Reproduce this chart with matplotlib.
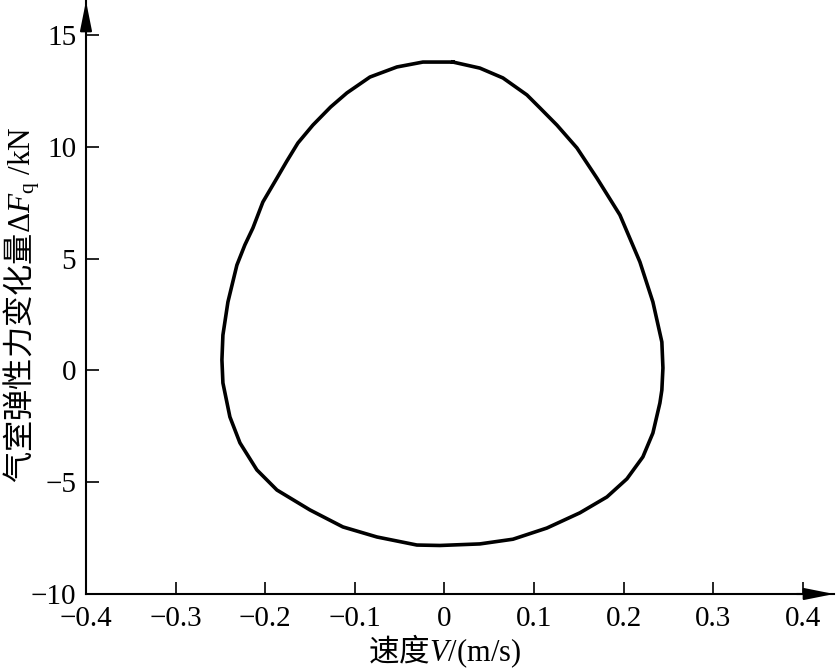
import matplotlib
matplotlib.use("Agg")
import matplotlib.pyplot as plt

plt.rcParams['font.family'] = ['Liberation Serif', 'Noto Sans CJK SC']
plt.rcParams['mathtext.fontset'] = 'custom'
plt.rcParams['mathtext.rm'] = 'Noto Sans CJK SC'
plt.rcParams['mathtext.it'] = 'Liberation Serif:italic'
plt.rcParams['mathtext.bf'] = 'Liberation Serif'
plt.rcParams['axes.unicode_minus'] = True

# Loop data (velocity m/s, force change kN), traced clockwise from the top
velocity = [0.0095, 0.0396, 0.0653, 0.0921, 0.1066, 0.1256, 0.1479, 0.1702,
            0.1959, 0.2182, 0.2327, 0.2427, 0.2439, 0.2427, 0.2405, 0.2327,
            0.2215, 0.2037, 0.1814, 0.1512, 0.1144, 0.0765, 0.0396, -0.0050,
            -0.0307, -0.0753, -0.1133, -0.1501, -0.1869, -0.2093, -0.2282,
            -0.2394, -0.2472, -0.2483, -0.2472, -0.2416, -0.2316, -0.2227,
            -0.2137, -0.2026, -0.1869, -0.1760, -0.1635, -0.1468, -0.1270,
            -0.1088, -0.0831, -0.0530, -0.0240, 0.0095]
force = [13.79, 13.52, 13.08, 12.32, 11.74, 10.97, 9.95, 8.60,
         6.95, 4.85, 3.06, 1.27, 0.11, -0.88, -1.46, -2.80,
         -3.87, -4.85, -5.66, -6.37, -7.05, -7.55, -7.76, -7.83,
         -7.81, -7.45, -7.00, -6.24, -5.35, -4.45, -3.24,
         -2.08, -0.56, 0.47, 1.58, 3.06, 4.71, 5.61,
         6.37, 7.53, 8.60, 9.35, 10.17, 10.97, 11.78,
         12.41, 13.12, 13.57, 13.79, 13.79]

x_ticks = [-0.4, -0.3, -0.2, -0.1, 0.0, 0.1, 0.2, 0.3, 0.4]
x_tick_labels = ["\u22120.4", "\u22120.3", "\u22120.2", "\u22120.1", "0", "0.1", "0.2", "0.3", "0.4"]
y_ticks = [-10, -5, 0, 5, 10, 15]
y_tick_labels = ["\u221210", "\u22125", "0", "5", "10", "15"]

x_label = r"$\mathrm{速度}\mathit{V}\mathbf{/(m/s)}$"
y_label = r"$\mathrm{气室弹性力变化量}\mathbf{\Delta}\mathit{F}_{\mathbf{q}}\mathbf{\ /kN}$"

W, H = 837, 672
fig = plt.figure(figsize=(W / 100, H / 100), dpi=100)
ax = fig.add_axes([86 / W, 78 / H, 748 / W, 593 / H])

ax.plot(velocity, force, color='black', linewidth=2.6, solid_joinstyle='round')

ax.set_xlim(-0.4, -0.4 + 748 / 896)
ax.set_ylim(-10, -10 + 593 / 22.36)

for s in ['top', 'right']:
    ax.spines[s].set_visible(False)
for s in ['left', 'bottom']:
    ax.spines[s].set_linewidth(1.5)

ax.set_xticks(x_ticks)
ax.set_xticklabels(x_tick_labels)
ax.set_yticks(y_ticks)
ax.set_yticklabels(y_tick_labels)
ax.tick_params(axis='both', direction='in', length=9, width=1.2, labelsize=21)
ax.tick_params(axis='x', pad=9)
ax.tick_params(axis='y', pad=7)

arrow = dict(arrowstyle='-|>,head_length=0.9,head_width=0.18', color='black',
             lw=1.5, mutation_scale=20, shrinkA=0, shrinkB=0)
ax.annotate('', xy=(1.0, 0), xytext=(0.95, 0), xycoords='axes fraction',
            textcoords='axes fraction', arrowprops=arrow, annotation_clip=False)
ax.annotate('', xy=(0, 1.0), xytext=(0, 0.95), xycoords='axes fraction',
            textcoords='axes fraction', arrowprops=arrow, annotation_clip=False)

fig.text(445 / W, 1 - 651 / H, x_label, ha='center', va='center', fontsize=22)
fig.text(22 / W, 1 - 305 / H, y_label, ha='center', va='center', fontsize=22.5,
         rotation=90)

fig.savefig('out.png', dpi=100, facecolor='white')
